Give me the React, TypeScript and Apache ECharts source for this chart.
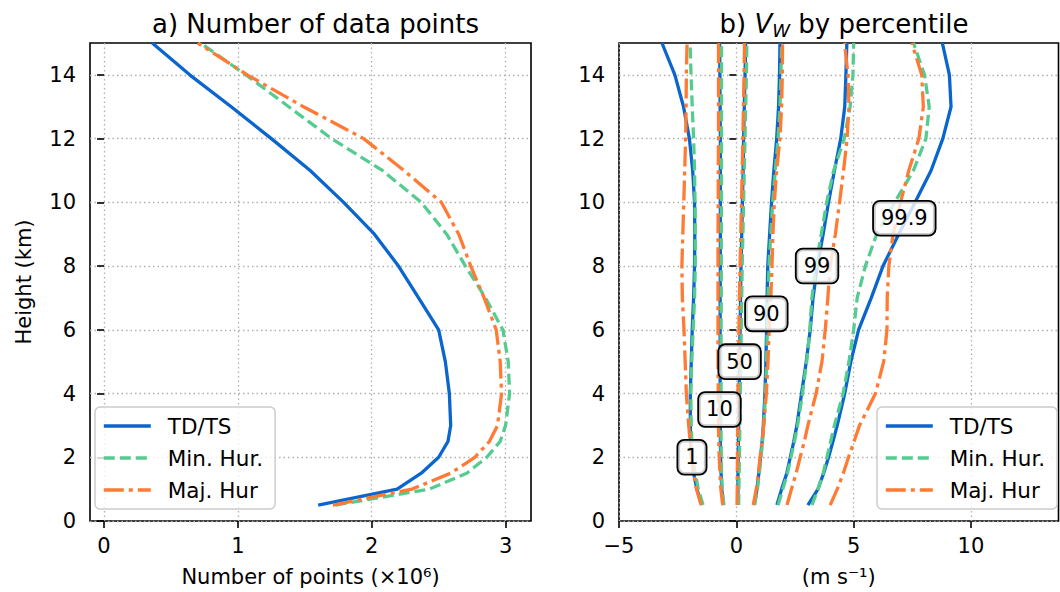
import { useEffect, useRef } from 'react';
import * as echarts from 'echarts';

const FONT = 'DejaVu Sans';

// Height levels (km) shared by every profile
const heights = [0.5, 1, 1.5, 2, 2.5, 3, 4, 5, 6, 7, 8, 9, 10, 11, 12, 13, 14, 15];

const categories = ['TD/TS', 'Min. Hur.', 'Maj. Hur'];

// Panel a: number of data points (x10^6) at each height
const pointsTdTs = [1.60, 2.19, 2.37, 2.50, 2.57, 2.59, 2.58, 2.55, 2.50, 2.35, 2.20, 2.02, 1.79, 1.54, 1.25, 0.95, 0.64, 0.36];
const pointsMinHur = [1.73, 2.43, 2.71, 2.86, 2.96, 3.00, 3.03, 3.02, 2.98, 2.85, 2.70, 2.56, 2.37, 2.08, 1.70, 1.38, 1.06, 0.72];
const pointsMajHur = [1.71, 2.30, 2.59, 2.77, 2.88, 2.94, 2.97, 2.96, 2.93, 2.84, 2.74, 2.65, 2.52, 2.24, 1.94, 1.49, 1.07, 0.70];

// Panel b: vertical velocity percentiles (m/s)
const percentiles = ['1', '10', '50', '90', '99', '99.9'];

const vwTdTs = [
  [-1.47, -1.68, -1.82, -1.92, -1.95, -1.96, -1.96, -1.92, -1.88, -1.82, -1.78, -1.77, -1.78, -1.86, -2.00, -2.25, -2.62, -3.17],
  [-0.55, -0.62, -0.65, -0.67, -0.68, -0.68, -0.69, -0.69, -0.69, -0.69, -0.68, -0.68, -0.68, -0.68, -0.68, -0.69, -0.70, -0.71],
  [0.06, 0.07, 0.07, 0.08, 0.09, 0.10, 0.12, 0.14, 0.16, 0.18, 0.20, 0.23, 0.26, 0.29, 0.31, 0.34, 0.37, 0.40],
  [0.76, 0.88, 0.96, 1.03, 1.10, 1.15, 1.22, 1.26, 1.29, 1.31, 1.34, 1.42, 1.50, 1.60, 1.72, 1.80, 1.84, 1.86],
  [1.73, 1.93, 2.15, 2.30, 2.45, 2.58, 2.78, 2.98, 3.15, 3.27, 3.45, 3.70, 3.93, 4.18, 4.45, 4.62, 4.67, 4.71],
  [3.05, 3.48, 3.72, 3.93, 4.12, 4.30, 4.62, 4.88, 5.21, 5.75, 6.25, 6.92, 7.62, 8.30, 8.80, 9.15, 9.08, 8.78],
];
const vwMinHur = [
  [-1.42, -1.62, -1.75, -1.86, -1.90, -1.92, -1.94, -1.90, -1.84, -1.78, -1.75, -1.75, -1.76, -1.78, -1.82, -1.88, -1.93, -1.97],
  [-0.53, -0.60, -0.63, -0.64, -0.65, -0.65, -0.65, -0.65, -0.65, -0.64, -0.64, -0.64, -0.63, -0.63, -0.63, -0.63, -0.63, -0.63],
  [0.10, 0.11, 0.12, 0.13, 0.14, 0.15, 0.17, 0.19, 0.21, 0.23, 0.25, 0.28, 0.31, 0.34, 0.37, 0.40, 0.43, 0.45],
  [0.78, 0.90, 0.98, 1.05, 1.12, 1.17, 1.25, 1.29, 1.32, 1.35, 1.39, 1.47, 1.55, 1.66, 1.78, 1.86, 1.90, 1.93],
  [1.78, 1.98, 2.18, 2.33, 2.48, 2.61, 2.82, 3.00, 3.13, 3.22, 3.38, 3.62, 3.85, 4.15, 4.60, 4.85, 4.97, 5.00],
  [3.22, 3.48, 3.70, 3.86, 4.02, 4.18, 4.55, 4.80, 5.00, 5.15, 5.50, 5.98, 6.75, 7.55, 8.08, 8.22, 8.02, 7.55],
];
const vwMajHur = [
  [-1.50, -1.70, -1.82, -1.90, -1.97, -2.03, -2.13, -2.18, -2.23, -2.30, -2.32, -2.28, -2.24, -2.20, -2.16, -2.14, -2.13, -2.10],
  [-0.58, -0.66, -0.70, -0.73, -0.75, -0.76, -0.77, -0.78, -0.78, -0.78, -0.78, -0.78, -0.77, -0.77, -0.76, -0.76, -0.76, -0.76],
  [0.03, 0.04, 0.04, 0.05, 0.05, 0.06, 0.07, 0.09, 0.11, 0.13, 0.16, 0.19, 0.22, 0.25, 0.28, 0.30, 0.33, 0.35],
  [0.72, 0.85, 0.94, 1.01, 1.10, 1.17, 1.28, 1.35, 1.40, 1.47, 1.52, 1.56, 1.62, 1.72, 1.86, 1.93, 1.96, 1.97],
  [2.16, 2.35, 2.55, 2.72, 2.90, 3.05, 3.40, 3.65, 3.79, 3.90, 4.00, 4.22, 4.40, 4.57, 4.72, 4.80, 4.76, 4.61],
  [4.00, 4.30, 4.56, 4.78, 5.02, 5.25, 5.93, 6.28, 6.42, 6.43, 6.50, 6.68, 7.00, 7.35, 7.78, 7.97, 7.90, 7.48],
];

// Where each percentile tag sits (m/s, km)
const tagX = [-1.89, -0.72, 0.14, 1.28, 3.44, 7.16];
const tagY = [2, 3.5, 5, 6.5, 8, 9.5];

const heightTicks = [0, 2, 4, 6, 8, 10, 12, 14];
const countTicks = [0, 1, 2, 3];
const vwTicks = [-5, 0, 5, 10];

const COLORS = ['#0a66cc', '#55cc8f', '#ff7a33'];
const DASHES: any[] = ['solid', [11, 5], [20, 5, 4, 5]];
const LINE_W = 3.3;

function profile(xs: number[]) {
  return xs.map((x, i) => [x, heights[i]]);
}

function lineSeries(name: string, k: number, xs: number[], axis: number) {
  return {
    type: 'line',
    name,
    xAxisIndex: axis,
    yAxisIndex: axis,
    data: profile(xs),
    symbol: 'none',
    silent: true,
    z: 2 + k,
    lineStyle: { color: COLORS[k], width: LINE_W, type: DASHES[k], cap: 'butt' },
    itemStyle: { color: COLORS[k] },
  };
}

const gridLine = { show: true, lineStyle: { color: '#b0b0b0', width: 1.3, type: [1.5, 3] } };
const tick = { show: true, inside: false, length: 7, lineStyle: { color: '#000', width: 1.6 } };
const tickFont = { fontFamily: FONT, fontSize: 21, color: '#000' };

function valueAxis(gridIndex: number, min: number, max: number, ticks: number[], extra: any) {
  return {
    type: 'value',
    gridIndex,
    min,
    max,
    axisLine: { show: false },
    axisTick: { ...tick, customValues: ticks },
    axisLabel: {
      ...tickFont,
      customValues: ticks,
      formatter: (v: number) => (v < 0 ? '\u2212' + Math.abs(v) : String(v)),
      margin: 14,
    },
    splitLine: gridLine,
    ...extra,
  };
}

function legendAt(left: number) {
  return {
    data: categories,
    left,
    top: 407,
    orient: 'vertical',
    itemWidth: 47,
    itemHeight: 14,
    itemGap: 8,
    padding: [7, 12, 7, 7],
    backgroundColor: 'rgba(255,255,255,0.8)',
    borderColor: '#cccccc',
    borderWidth: 1.5,
    borderRadius: 5,
    selectedMode: false,
    itemStyle: { color: 'rgba(0,0,0,0)', borderWidth: 0, opacity: 0 },
    lineStyle: { width: 3.6 },
    textStyle: { fontFamily: FONT, fontSize: 21.5, color: '#000', lineHeight: 24, padding: [0, 0, 0, 12] },
  };
}

export default function App() {
  const ref = useRef<HTMLDivElement>(null);

  useEffect(() => {
    if (!ref.current) return;
    const chart = echarts.init(ref.current, undefined, { renderer: 'svg' });

    const series: any[] = [
      lineSeries(categories[0], 0, pointsTdTs, 0),
      lineSeries(categories[1], 1, pointsMinHur, 0),
      lineSeries(categories[2], 2, pointsMajHur, 0),
    ];
    percentiles.forEach((_, p) => {
      series.push(lineSeries(categories[0], 0, vwTdTs[p], 1));
      series.push(lineSeries(categories[1], 1, vwMinHur[p], 1));
      series.push(lineSeries(categories[2], 2, vwMajHur[p], 1));
    });
    series.push({
      type: 'scatter',
      name: 'percentile tags',
      xAxisIndex: 1,
      yAxisIndex: 1,
      data: tagX.map((x, i) => [x, tagY[i], percentiles[i]]),
      symbolSize: 1,
      itemStyle: { color: 'rgba(0,0,0,0)', opacity: 1 },
      silent: true,
      z: 20,
      label: {
        show: true,
        position: 'inside',
        formatter: (p: any) => p.data[2],
        fontFamily: FONT,
        fontSize: 21,
        color: '#000',
        opacity: 1,
        textBorderWidth: 0,
        textShadowBlur: 0,
        lineHeight: 23,
        backgroundColor: 'rgba(255,255,255,0.8)',
        borderColor: '#000',
        borderWidth: 1.8,
        borderRadius: 6,
        padding: [5, 7],
      },
    });

    chart.setOption({
      animation: false,
      backgroundColor: '#ffffff',
      textStyle: { fontFamily: FONT },
      title: [
        {
          text: 'a) Number of data points',
          left: 310.5,
          top: 4,
          textAlign: 'center',
          textStyle: { fontFamily: FONT, fontSize: 26, fontWeight: 'normal', color: '#000', lineHeight: 30 },
        },
        {
          text: '{t|b) }{v|V}{s|W}{t| by percentile}',
          left: 839,
          top: 4,
          textAlign: 'center',
          textStyle: {
            fontFamily: FONT,
            fontSize: 26,
            fontWeight: 'normal',
            color: '#000',
            rich: {
              t: { fontFamily: FONT, fontSize: 26, color: '#000', lineHeight: 30 },
              v: { fontFamily: FONT, fontSize: 26, fontStyle: 'italic', color: '#000', lineHeight: 30 },
              s: { fontFamily: FONT, fontSize: 18, fontStyle: 'italic', color: '#000', lineHeight: 18, verticalAlign: 'bottom' },
            },
          },
        },
      ],
      grid: [
        { left: 90, top: 43, width: 441, height: 478, show: true, borderColor: '#000', borderWidth: 1.6, backgroundColor: 'transparent' },
        { left: 619, top: 43, width: 439.5, height: 478, show: true, borderColor: '#000', borderWidth: 1.6, backgroundColor: 'transparent' },
      ],
      xAxis: [
        valueAxis(0, -0.105, 3.19, countTicks, {
          name: 'Number of points (\u00d710\u2076)',
          nameLocation: 'middle',
          nameGap: 45,
          nameTextStyle: { fontFamily: FONT, fontSize: 21, color: '#000' },
        }),
        valueAxis(1, -5, 13.73, vwTicks, {
          name: '(m s\u207b\u00b9)',
          nameLocation: 'middle',
          nameGap: 45,
          nameTextStyle: { fontFamily: FONT, fontSize: 21, color: '#000' },
        }),
      ],
      yAxis: [
        valueAxis(0, 0, 15, heightTicks, {
          name: 'Height (km)',
          nameLocation: 'middle',
          nameGap: 56,
          nameTextStyle: { fontFamily: FONT, fontSize: 21, color: '#000' },
        }),
        valueAxis(1, 0, 15, heightTicks, {}),
      ],
      legend: [legendAt(95), legendAt(877)],
      series,
    });

    return () => chart.dispose();
  }, []);

  return (
    <div
      ref={ref}
      style={{ position: 'fixed', left: 0, top: 0, width: 1060, height: 592, background: '#fff' }}
    />
  );
}
